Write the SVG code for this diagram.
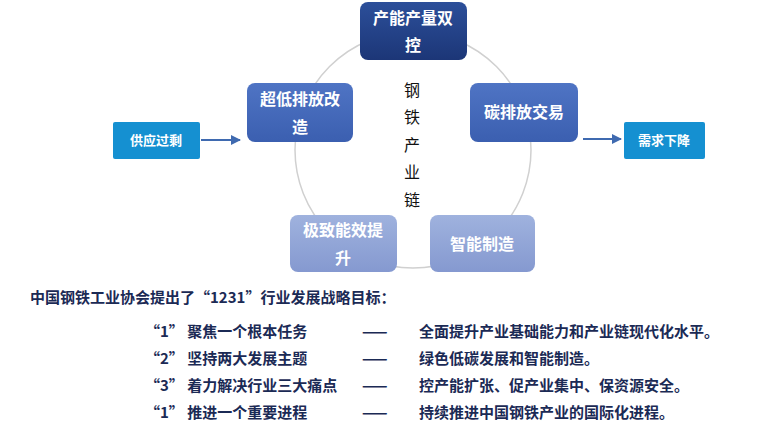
<svg xmlns="http://www.w3.org/2000/svg" width="759" height="428" viewBox="0 0 759 428">
<style>
.n{font-family:"Noto Sans CJK SC","Liberation Sans",sans-serif;font-weight:bold;fill:#fff;text-anchor:middle}
.t{font-family:"Noto Sans CJK SC","Liberation Sans",sans-serif;font-weight:bold;fill:#1b2a55;font-size:15px}
.c{stroke:#3f6ab0;stroke-width:2;fill:none}
</style>
<defs>
<marker id="a" viewBox="0 0 10 10" refX="9" refY="5" markerWidth="5" markerHeight="5" orient="auto"><path d="M0,0L10,5L0,10z" fill="#3f6ab0"/></marker>
<linearGradient id="g1" x1="0" y1="0" x2="0" y2="1"><stop offset="0" stop-color="#2c4f9a"/><stop offset="1" stop-color="#1c3677"/></linearGradient>
<linearGradient id="g2" x1="0" y1="0" x2="0" y2="1"><stop offset="0" stop-color="#4f74c4"/><stop offset="1" stop-color="#3b5fb0"/></linearGradient>
<linearGradient id="g3" x1="0" y1="0" x2="0" y2="1"><stop offset="0" stop-color="#9fb2de"/><stop offset="1" stop-color="#8599d0"/></linearGradient>
</defs>
<circle cx="413" cy="150" r="118" fill="none" stroke="#d0d0d0" stroke-width="1.5"/>
<g id="connectors">
<line class="c" x1="201" y1="140" x2="240" y2="140" marker-end="url(#a)"/>
<line class="c" x1="583" y1="139" x2="621" y2="139" marker-end="url(#a)"/>
</g>
<g id="top"><rect x="360" y="2" width="107" height="58" rx="8" fill="url(#g1)"/><text class="n" font-size="16" x="413" y="24">产能产量双</text><text class="n" font-size="16" x="413" y="51">控</text></g>
<g id="left"><rect x="247" y="83" width="106" height="59" rx="8" fill="url(#g2)"/><text class="n" font-size="16" x="300" y="105">超低排放改</text><text class="n" font-size="16" x="300" y="133">造</text></g>
<g id="right"><rect x="470" y="83" width="108" height="59" rx="8" fill="url(#g2)"/><text class="n" font-size="16" x="524" y="118">碳排放交易</text></g>
<g id="bl"><rect x="290" y="215" width="107" height="57" rx="8" fill="url(#g3)"/><text class="n" font-size="16" x="343" y="236">极致能效提</text><text class="n" font-size="16" x="343" y="264">升</text></g>
<g id="br"><rect x="430" y="215" width="105" height="57" rx="8" fill="url(#g3)"/><text class="n" font-size="16" x="482" y="250">智能制造</text></g>
<g id="supply"><rect x="113" y="122" width="87" height="37" rx="2" fill="#1590d1"/><text class="n" font-size="13" x="156" y="145">供应过剩</text></g>
<g id="demand"><rect x="624" y="122" width="81" height="37" rx="2" fill="#1590d1"/><text class="n" font-size="13" x="664" y="145">需求下降</text></g>
<g id="chain" font-family="Noto Sans CJK SC,sans-serif" font-size="16" fill="#111" text-anchor="middle">
<text x="412" y="96">钢</text><text x="412" y="123">铁</text><text x="412" y="151">产</text><text x="412" y="178">业</text><text x="412" y="206">链</text>
</g>
<text class="t" x="30" y="303">中国钢铁工业协会提出了“1231”行业发展战略目标：</text>
<text class="t" x="145" y="337">“1” 聚焦一个根本任务</text><text class="t" x="362" y="337">——</text><text class="t" x="419" y="337">全面提升产业基础能力和产业链现代化水平。</text>
<text class="t" x="145" y="364">“2” 坚持两大发展主题</text><text class="t" x="362" y="364">——</text><text class="t" x="419" y="364">绿色低碳发展和智能制造。</text>
<text class="t" x="145" y="391">“3” 着力解决行业三大痛点</text><text class="t" x="362" y="391">——</text><text class="t" x="419" y="391">控产能扩张、促产业集中、保资源安全。</text>
<text class="t" x="145" y="418">“1” 推进一个重要进程</text><text class="t" x="362" y="418">——</text><text class="t" x="419" y="418">持续推进中国钢铁产业的国际化进程。</text>
</svg>
